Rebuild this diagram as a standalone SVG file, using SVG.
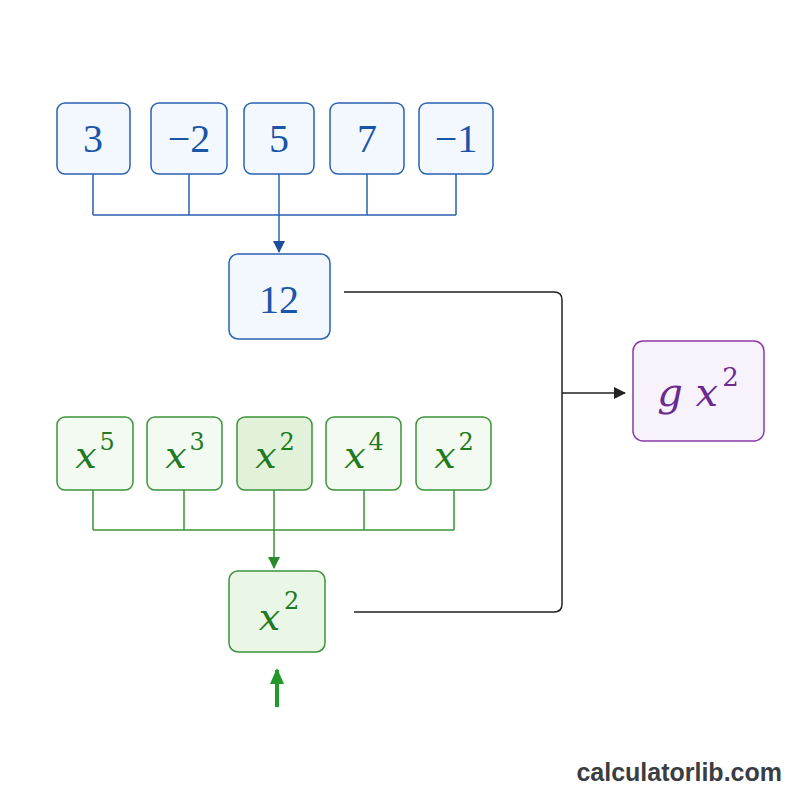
<svg xmlns="http://www.w3.org/2000/svg" width="800" height="800" viewBox="0 0 800 800">
<style>
.b rect{fill:#f3f8fe;stroke:#2a62b0;stroke-width:1.5}
.b text{fill:#1a56a8;font-family:"Liberation Serif",serif;font-size:40px;text-anchor:middle}
.g rect{fill:#f3faf1;stroke:#3b943a;stroke-width:1.5}
.g text{fill:#1f7a22;font-family:"DejaVu Serif","Liberation Serif",serif;font-style:italic;font-size:38px;text-anchor:middle}
.g tspan.s{font-style:normal;font-size:24px}
.bl{stroke:#2a62b0;stroke-width:1.5;fill:none}
.gl{stroke:#3b943a;stroke-width:1.5;fill:none}
.kl{stroke:#222;stroke-width:1.5;fill:none}
</style>
<defs>
<marker id="ab" markerWidth="12" markerHeight="12" refX="11" refY="6" orient="auto" markerUnits="userSpaceOnUse"><path d="M0,0L12,6L0,12z" fill="#1f4f9a"/></marker>
<marker id="ag" markerWidth="12" markerHeight="12" refX="11" refY="6" orient="auto" markerUnits="userSpaceOnUse"><path d="M0,0L12,6L0,12z" fill="#2c8a2c"/></marker>
<marker id="ak" markerWidth="12" markerHeight="12" refX="11" refY="6" orient="auto" markerUnits="userSpaceOnUse"><path d="M0,0L12,6L0,12z" fill="#222"/></marker>
<marker id="agg" markerWidth="16" markerHeight="14" refX="14" refY="7" orient="auto" markerUnits="userSpaceOnUse"><path d="M0,0L16,7L0,14z" fill="#1f9a2a"/></marker>
</defs>
<rect width="800" height="800" fill="#fff"/>
<g id="connectors">
<path class="bl" d="M93,174V215M189,174V215M456,174V215M367,174V215M93,215H456"/>
<path class="bl" d="M279,174V252" marker-end="url(#ab)"/>
<path class="gl" d="M93,490V530M184,490V530M364,490V530M454,490V530M93,530H454"/>
<path class="gl" d="M274,490V568" marker-end="url(#ag)"/>
<path class="kl" d="M344,292H554Q562,292 562,300V604Q562,612 554,612H354"/>
<path class="kl" d="M562,393H625" marker-end="url(#ak)"/>
<path d="M277,707V670" stroke="#1f9a2a" stroke-width="4" fill="none" marker-end="url(#agg)"/>
</g>
<g id="n3" class="b"><rect x="57" y="103" width="73" height="71" rx="8"/><text x="93" y="152">3</text></g>
<g id="n-2" class="b"><rect x="151" y="103" width="76" height="71" rx="8"/><text x="189" y="152">−2</text></g>
<g id="n5" class="b"><rect x="244" y="103" width="70" height="71" rx="8"/><text x="279" y="152">5</text></g>
<g id="n7" class="b"><rect x="330" y="103" width="74" height="71" rx="8"/><text x="367" y="152">7</text></g>
<g id="n-1" class="b"><rect x="419" y="103" width="74" height="71" rx="8"/><text x="456" y="152">−1</text></g>
<g id="n12" class="b"><rect x="229" y="254" width="101" height="85" rx="9" fill="#e8f1fc"/><text x="279" y="313" font-size="44">12</text></g>
<g id="x5" class="g"><rect x="57" y="417" width="76" height="73" rx="8"/><text x="95" y="468">x<tspan class="s" dy="-18" dx="3">5</tspan></text></g>
<g id="x3" class="g"><rect x="147" y="417" width="75" height="73" rx="8"/><text x="185" y="468">x<tspan class="s" dy="-18" dx="3">3</tspan></text></g>
<g id="x2a" class="g"><rect x="237" y="417" width="75" height="73" rx="8" style="fill:#e2f2da"/><text x="275" y="468">x<tspan class="s" dy="-18" dx="3">2</tspan></text></g>
<g id="x4" class="g"><rect x="326" y="417" width="75" height="73" rx="8"/><text x="364" y="468">x<tspan class="s" dy="-18" dx="3">4</tspan></text></g>
<g id="x2b" class="g"><rect x="416" y="417" width="75" height="73" rx="8"/><text x="454" y="468">x<tspan class="s" dy="-18" dx="3">2</tspan></text></g>
<g id="x2r" class="g"><rect x="229" y="571" width="96" height="81" rx="9" style="fill:#eaf6e6"/><text x="279" y="630" font-size="44">x<tspan class="s" dy="-21" dx="4" font-size="28">2</tspan></text></g>
<g id="gx2"><rect x="633" y="341" width="131" height="100" rx="10" fill="#f8f2fc" stroke="#8a3aa8" stroke-width="1.5"/><text x="698" y="406" font-family="DejaVu Serif,Liberation Serif,serif" font-style="italic" font-size="40" fill="#6a2a90" text-anchor="middle">g x<tspan font-style="normal" font-size="26" dy="-20" dx="4">2</tspan></text></g>
<text x="782" y="781" font-family="Liberation Sans,Arial,sans-serif" font-weight="bold" font-size="25" fill="#3a3d42" text-anchor="end">calculatorlib.com</text>
</svg>
